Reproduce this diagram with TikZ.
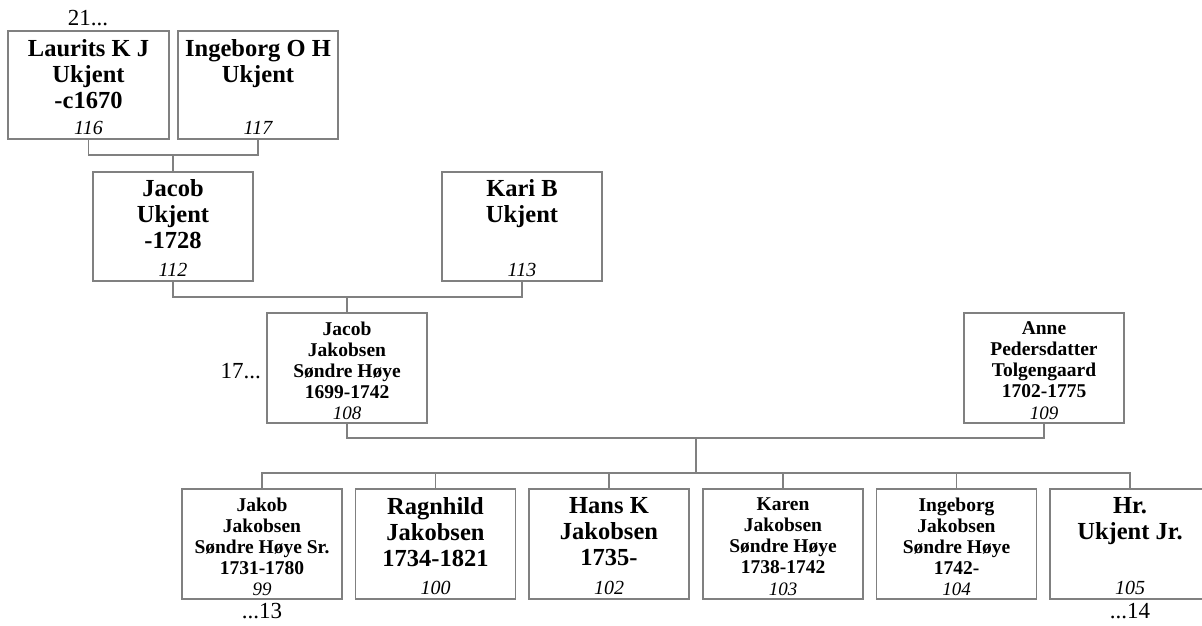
\documentclass[tikz,border=0pt]{standalone}
\usepackage{fontspec}
\setmainfont{Liberation Serif}
\definecolor{linegray}{RGB}{128,128,128}
\begin{document}
\begin{tikzpicture}[x=1pt,y=-1pt,
  pbox/.style={draw=linegray, line width=1.2pt, minimum width=160pt, minimum height=110pt, inner sep=0pt, outer sep=0pt},
  conn/.style={draw=linegray, line width=1.2pt},
  bigtxt/.style={anchor=north, align=center, inner sep=0pt, font=\fontsize{24.5}{26}\selectfont\bfseries},
  smalltxt/.style={anchor=north, align=center, inner sep=0pt, font=\fontsize{19.5}{21}\selectfont\bfseries},
  numbig/.style={anchor=base, inner sep=0pt, font=\fontsize{20}{24}\selectfont\itshape},
  numsmall/.style={anchor=base, inner sep=0pt, font=\fontsize{19}{21}\selectfont\itshape},
  outer/.style={inner sep=0pt, font=\fontsize{23}{26}\selectfont}]
\clip (0,0) rectangle (1202,625);
\fill[white] (0,0) rectangle (1202,625);

% generation 1
\node[pbox, minimum width=161pt, minimum height=108pt] (p116) at (88.5,85) {};
\node[pbox, minimum height=108pt] (p117) at (258,85) {};
% generation 2
\node[pbox, minimum height=109pt] (p112) at (173,226.5) {};
\node[pbox, minimum height=109pt] (p113) at (522,226.5) {};
% generation 3
\node[pbox] (p108) at (347,368) {};
\node[pbox] (p109) at (1044,368) {};
% children
\node[pbox] (p99)  at (262,544) {};
\node[pbox] (p100) at (435.5,544) {};
\node[pbox] (p102) at (609,544) {};
\node[pbox] (p103) at (783,544) {};
\node[pbox] (p104) at (956.5,544) {};
\node[pbox] (p105) at (1130,544) {};

% texts
\node[bigtxt] (t116) at ([yshift=-8pt]p116.north) {Laurits K J\\Ukjent\\-c1670};
\node[numbig] (n116) at ([yshift=5pt]p116.south) {116};
\node[bigtxt] (t117) at ([yshift=-8pt]p117.north) {Ingeborg O H\\Ukjent};
\node[numbig] (n117) at ([yshift=5pt]p117.south) {117};
\node[bigtxt] (t112) at ([yshift=-7.5pt]p112.north) {Jacob\\Ukjent\\-1728};
\node[numbig] (n112) at ([yshift=5pt]p112.south) {112};
\node[bigtxt] (t113) at ([yshift=-7.5pt]p113.north) {Kari B\\Ukjent};
\node[numbig] (n113) at ([yshift=5pt]p113.south) {113};
\node[smalltxt] (t108) at ([yshift=-8.7pt]p108.north) {Jacob\\Jakobsen\\Søndre Høye\\1699-1742};
\node[numsmall] (n108) at ([yshift=4pt]p108.south) {108};
\node[smalltxt] (t109) at ([yshift=-8.7pt]p109.north) {Anne\\Pedersdatter\\Tolgengaard\\1702-1775};
\node[numsmall] (n109) at ([yshift=4pt]p109.south) {109};
\node[smalltxt] (t99) at ([yshift=-8.7pt]p99.north) {Jakob\\Jakobsen\\Søndre Høye Sr.\\1731-1780};
\node[numsmall] (n99) at ([yshift=4pt]p99.south) {99};
\node[bigtxt] (t100) at ([yshift=-8.5pt]p100.north) {Ragnhild\\Jakobsen\\1734-1821};
\node[numbig] (n100) at ([yshift=5pt]p100.south) {100};
\node[bigtxt] (t102) at ([yshift=-8.5pt]p102.north) {Hans K\\Jakobsen\\1735-};
\node[numbig] (n102) at ([yshift=5pt]p102.south) {102};
\node[smalltxt] (t103) at ([yshift=-8.7pt]p103.north) {Karen\\Jakobsen\\Søndre Høye\\1738-1742};
\node[numsmall] (n103) at ([yshift=4pt]p103.south) {103};
\node[smalltxt] (t104) at ([yshift=-8.7pt]p104.north) {Ingeborg\\Jakobsen\\Søndre Høye\\1742-};
\node[numsmall] (n104) at ([yshift=4pt]p104.south) {104};
\node[bigtxt] (t105) at ([yshift=-8.5pt]p105.north) {Hr.\\Ukjent Jr.};
\node[numbig] (n105) at ([yshift=5pt]p105.south) {105};

% outer labels
\node[outer, anchor=base] (l21) at (88,25) {21...};
\node[outer, anchor=base east] (l17) at (261,378) {17...};
\node[outer, anchor=base] (l13) at (262,618) {...13};
\node[outer, anchor=base] (l14) at (1130,618) {...14};

% connectors
\coordinate (j1) at (173,155);
\coordinate (j2) at (347,297);
\coordinate (j3) at (696,438);
\coordinate (bus) at (696,473);
\draw[conn] (p116.south) |- (j1) -| (p117.south);
\draw[conn] (j1) -- (p112.north);
\draw[conn] (p112.south) |- (j2) -| (p113.south);
\draw[conn] (j2) -- (p108.north);
\draw[conn] (p108.south) |- (j3) -| (p109.south);
\draw[conn] (j3) -- (bus);
\foreach \c in {p99,p100,p102,p103,p104,p105}
  \draw[conn] (bus) -| (\c.north);
\end{tikzpicture}
\end{document}
